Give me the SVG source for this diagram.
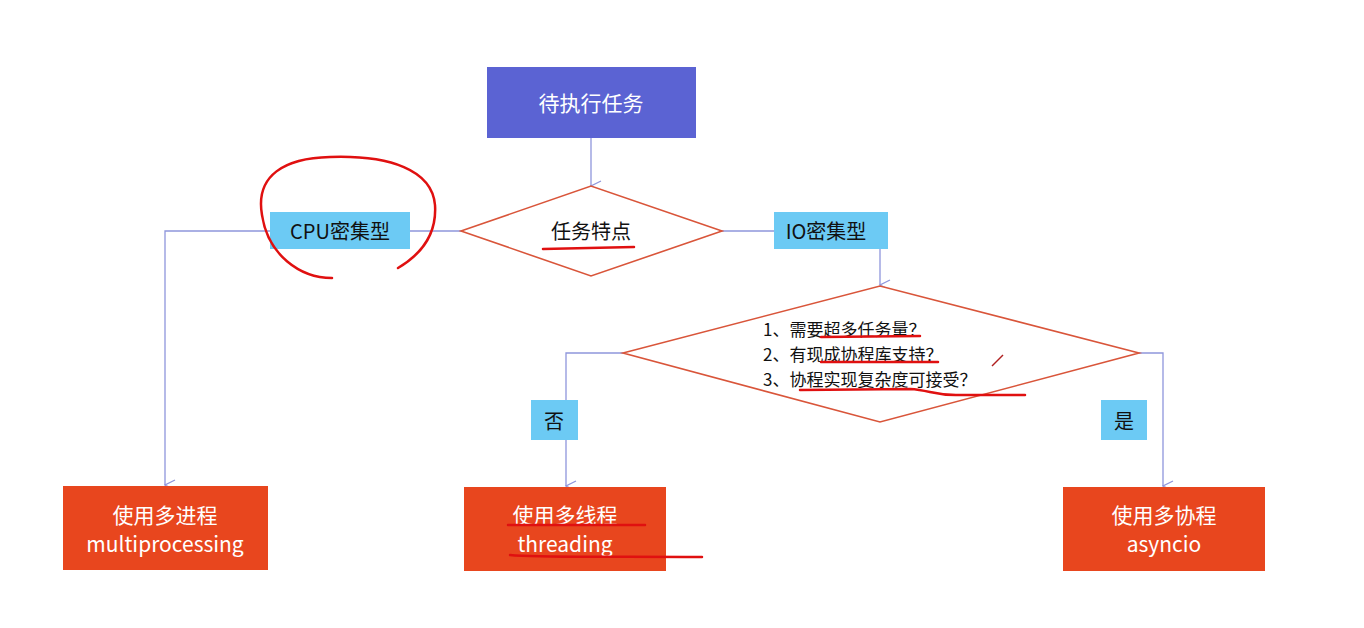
<svg xmlns="http://www.w3.org/2000/svg" width="1364" height="628" viewBox="0 0 1364 628">
<defs>
<style>
text{font-family:"Noto Sans CJK SC","Liberation Sans",sans-serif;text-anchor:middle;dominant-baseline:central}
.w{fill:#fff;font-size:21px}
.k{fill:#111;font-size:20px}
.c{fill:none;stroke:#8f96dc;stroke-width:1.3}
.d{fill:#fff;stroke:#d9553a;stroke-width:1.6}
.lab{fill:#6ccaf4}
.o{fill:#e8461e}
.r{fill:none;stroke:#e01010;stroke-width:2.5;stroke-linecap:round}
</style>
<marker id="a" markerWidth="12" markerHeight="12" refX="6" refY="11" orient="auto" markerUnits="userSpaceOnUse"><path d="M1,1 L6,11 L11,1" fill="none" stroke="#8f96dc" stroke-width="1.3"/></marker>
</defs>
<rect width="1364" height="628" fill="#fff"/>
<g id="connectors">
<path class="c" d="M591,138 V186" marker-end="url(#a)"/>
<path class="c" d="M461,231 H165 V485" marker-end="url(#a)"/>
<path class="c" d="M722,231 H880 V285" marker-end="url(#a)"/>
<path class="c" d="M623,353 H566 V486" marker-end="url(#a)"/>
<path class="c" d="M1139,353 H1163 V486" marker-end="url(#a)"/>
</g>
<g id="start"><rect x="487" y="67" width="209" height="71" fill="#5b63d3"/><text class="w" x="591" y="102">待执行任务</text></g>
<g id="d1"><path class="d" d="M461,231 L591,186 L722,231 L591,276 Z"/><text class="k" x="591" y="230">任务特点</text></g>
<g id="cpu"><rect class="lab" x="270" y="212" width="140" height="37"/><text class="k" x="340" y="230">CPU密集型</text></g>
<g id="io"><rect class="lab" x="774" y="212" width="114" height="37"/><text class="k" x="826" y="230">IO密集型</text></g>
<g id="d2"><path class="d" d="M623,353 L880,286 L1139,353 L880,422 Z"/>
<text class="k" style="text-anchor:start;font-size:17px" x="763" y="328">1、需要超多任务量？</text>
<text class="k" style="text-anchor:start;font-size:17px" x="763" y="353">2、有现成协程库支持？</text>
<text class="k" style="text-anchor:start;font-size:17px" x="763" y="378">3、协程实现复杂度可接受？</text></g>
<g id="no"><rect class="lab" x="531" y="400" width="47" height="40"/><text class="k" x="554" y="420">否</text></g>
<g id="yes"><rect class="lab" x="1101" y="400" width="46" height="40"/><text class="k" x="1124" y="420">是</text></g>
<g id="mp"><rect class="o" x="63" y="486" width="205" height="84"/><text class="w" x="165" y="514">使用多进程</text><text class="w" x="165" y="543">multiprocessing</text></g>
<g id="mt"><rect class="o" x="464" y="487" width="202" height="84"/><text class="w" x="565" y="514">使用多线程</text><text class="w" x="565" y="543">threading</text></g>
<g id="co"><rect class="o" x="1063" y="487" width="202" height="84"/><text class="w" x="1164" y="514">使用多协程</text><text class="w" x="1164" y="543">asyncio</text></g>
<g id="annot">
<path class="r" d="M332,278 C300,278 268,255 262,215 C255,175 285,158 330,157 C390,155 432,170 435,205 C437,235 420,255 398,268"/>
<path class="r" d="M543,249 L634,247"/>
<path class="r" d="M821,337 L920,336"/>
<path class="r" d="M821,362 L938,362"/>
<path class="r" d="M800,390 L910,389 C930,390 935,396 960,395 L1025,395"/>
<path class="r" d="M508,525 L645,525"/>
<path class="r" d="M510,555 C540,558 600,556 702,557"/>
<path d="M992,366 L1003,355" stroke="#b02020" stroke-width="1.5"/>
</g>
</svg>
